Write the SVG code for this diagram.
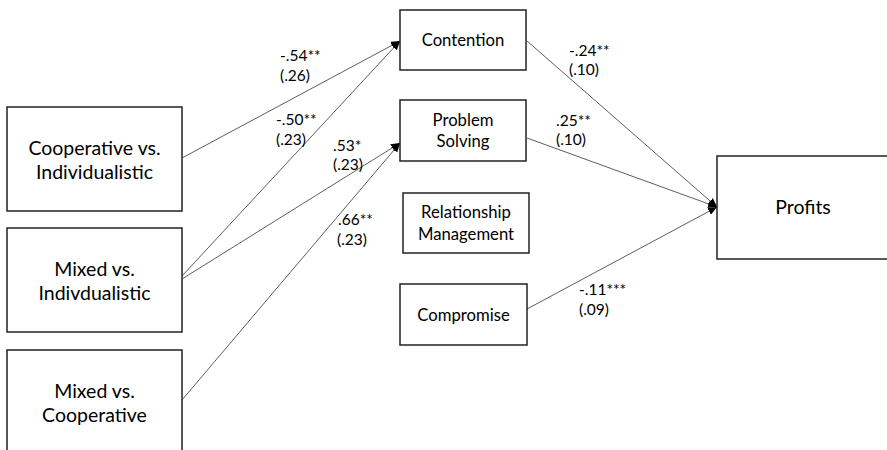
<svg xmlns="http://www.w3.org/2000/svg" width="887" height="450" viewBox="0 0 887 450">
<style>
  .box { fill: #fff; stroke: #222; stroke-width: 1.5; }
  .big { font-family: Lato, "Liberation Sans", sans-serif; font-size: 19.5px; fill: #000; text-anchor: middle; }
  .mid { font-family: Lato, "Liberation Sans", sans-serif; font-size: 16.7px; fill: #000; text-anchor: middle; }
  .lbl { font-family: Lato, "Liberation Sans", sans-serif; font-size: 15.5px; fill: #000; }
  .edge { fill: none; stroke: #333; stroke-width: 0.8; marker-end: url(#arr); }
</style>
<defs>
  <marker id="arr" markerUnits="userSpaceOnUse" markerWidth="10" markerHeight="8" refX="9" refY="4" orient="auto">
    <path d="M0,0 L9,4 L0,8 z" fill="#000"/>
  </marker>
</defs>
<rect width="887" height="450" fill="#fff"/>

<g id="connectors">
  <line class="edge" x1="182" y1="158" x2="400" y2="41"/>
  <line class="edge" x1="182" y1="276" x2="400" y2="41"/>
  <line class="edge" x1="182" y1="279" x2="400" y2="143"/>
  <line class="edge" x1="182" y1="400" x2="400" y2="143"/>
  <line class="edge" x1="527" y1="41" x2="717" y2="207"/>
  <line class="edge" x1="527" y1="138" x2="717" y2="207"/>
  <line class="edge" x1="527" y1="309" x2="717" y2="207"/>
  <g id="edge-labels">
    <text class="lbl" x="280" y="61">-.54**</text>
    <text class="lbl" x="280" y="81">(.26)</text>
    <text class="lbl" x="276" y="125">-.50**</text>
    <text class="lbl" x="276" y="145">(.23)</text>
    <text class="lbl" x="333" y="151">.53*</text>
    <text class="lbl" x="333" y="170">(.23)</text>
    <text class="lbl" x="338" y="225">.66**</text>
    <text class="lbl" x="337" y="245">(.23)</text>
    <text class="lbl" x="569" y="56">-.24**</text>
    <text class="lbl" x="569" y="75">(.10)</text>
    <text class="lbl" x="556" y="126">.25**</text>
    <text class="lbl" x="556" y="145">(.10)</text>
    <text class="lbl" x="579" y="295">-.11***</text>
    <text class="lbl" x="579" y="315">(.09)</text>
  </g>
</g>

<g id="node-coop-indiv">
  <rect class="box" x="7" y="107" width="175" height="104"/>
  <text class="big" x="94.5" y="155">Cooperative vs.</text>
  <text class="big" x="94.5" y="179">Individualistic</text>
</g>
<g id="node-mixed-indiv">
  <rect class="box" x="7" y="228" width="175" height="104"/>
  <text class="big" x="94.5" y="276">Mixed vs.</text>
  <text class="big" x="94.5" y="300">Indivdualistic</text>
</g>
<g id="node-mixed-coop">
  <rect class="box" x="7" y="350" width="175" height="110"/>
  <text class="big" x="94.5" y="398">Mixed vs.</text>
  <text class="big" x="94.5" y="422">Cooperative</text>
</g>
<g id="node-contention">
  <rect class="box" x="400" y="10" width="126" height="60"/>
  <text class="mid" x="463" y="46">Contention</text>
</g>
<g id="node-problem-solving">
  <rect class="box" x="400" y="100" width="126" height="61"/>
  <text class="mid" x="463" y="125.5">Problem</text>
  <text class="mid" x="463" y="147">Solving</text>
</g>
<g id="node-relationship">
  <rect class="box" x="403" y="193" width="126" height="60"/>
  <text class="mid" x="466" y="218">Relationship</text>
  <text class="mid" x="466" y="240">Management</text>
</g>
<g id="node-compromise">
  <rect class="box" x="400" y="284" width="127" height="61"/>
  <text class="mid" x="463.5" y="320.5">Compromise</text>
</g>
<g id="node-profits">
  <rect class="box" x="717" y="156" width="180" height="103"/>
  <text class="big" x="803" y="214">Profits</text>
</g>
</svg>
